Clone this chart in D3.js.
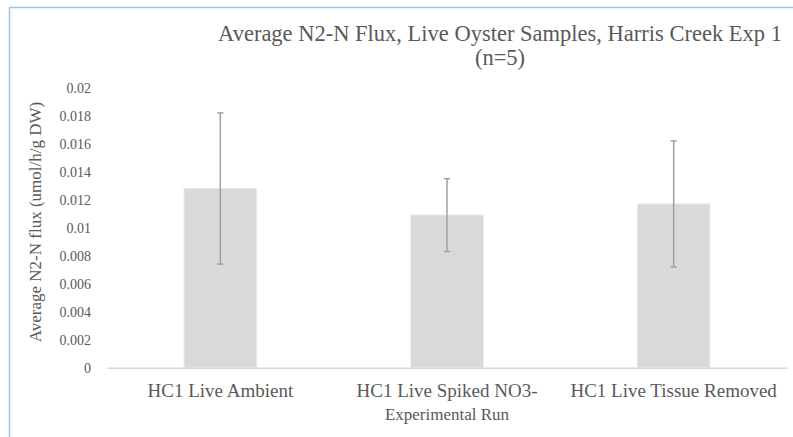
<!DOCTYPE html>
<html>
<head>
<meta charset="utf-8">
<script src="https://cdn.jsdelivr.net/npm/d3@7"></script>
<style>
  body { margin: 0; background: #fff; }
  text { font-family: "Liberation Serif", "DejaVu Serif", serif; fill: #595959; }
</style>
</head>
<body>
<svg width="793" height="437"></svg>
<script>
var categories = ['HC1 Live Ambient', 'HC1 Live Spiked NO3-', 'HC1 Live Tissue Removed']
var means = [0.0128, 0.0109, 0.0117]
var errors = [0.0054, 0.0026, 0.0045]
var yTicks = [0, 0.002, 0.004, 0.006, 0.008, 0.01, 0.012, 0.014, 0.016, 0.018, 0.02]
var titleLines = ['Average N2-N Flux, Live Oyster Samples, Harris Creek Exp 1', '(n=5)']

var serif = '"Liberation Serif", "DejaVu Serif", serif'
var svg = d3.select("svg")

// chart frame (runs off the right/bottom edges)
svg.append("rect")
    .attr("x", 9.5).attr("y", 7.5)
    .attr("width", 800).attr("height", 440)
    .attr("fill", "#fff")
    .attr("stroke", "#9dc3e6")
    .attr("stroke-width", 1.5)

var margin = {top: 87.7, left: 107, right: 6, bottom: 69.3},
    width = 793 - margin.left - margin.right,
    height = 437 - margin.top - margin.bottom

var g = svg.append("g").attr("transform", "translate(" + margin.left + "," + margin.top + ")")

var x = d3.scaleBand()
    .domain(categories)
    .range([0, width])
    .paddingInner(0.68)
    .paddingOuter(0.34)

var y = d3.scaleLinear()
    .domain([0, 0.02])
    .range([height, 0])

// y axis labels only
var yAxis = g.append("g")
    .call(d3.axisLeft(y).tickValues(yTicks).tickSize(0).tickPadding(16)
      .tickFormat(function(d) { return d === 0 ? '0' : String(+d.toFixed(3)) }))
yAxis.attr("font-family", serif)
yAxis.select(".domain").remove()
yAxis.selectAll("text")
    .style("font-family", serif)
    .style("font-size", "14px")
    .attr("fill", "#595959")

// bars
g.selectAll(".bar")
  .data(means)
  .enter().append("rect")
    .attr("class", "bar")
    .attr("x", function(d, i) { return x(categories[i]) })
    .attr("width", x.bandwidth())
    .attr("y", function(d) { return y(d) })
    .attr("height", function(d) { return height - y(d) })
    .attr("fill", "#d9d9d9")
    .attr("stroke", "#d6eef5")
    .attr("stroke-width", 1)

// baseline
var xAxis = g.append("g")
    .attr("transform", "translate(0," + height + ")")
    .call(d3.axisBottom(x).tickSize(0).tickPadding(16))
xAxis.attr("font-family", serif)
xAxis.select(".domain").attr("stroke", "#d9d9d9").attr("stroke-width", 1.5)
xAxis.selectAll("text")
    .style("font-family", serif)
    .style("font-size", "19px")
    .attr("fill", "#595959")

// error bars
var eb = g.selectAll(".err")
  .data(means)
  .enter().append("g")
    .attr("class", "err")
    .attr("stroke", "#a0a0a0")
    .attr("stroke-width", 1.5)
eb.append("line")
    .attr("x1", function(d, i) { return x(categories[i]) + x.bandwidth() / 2 })
    .attr("x2", function(d, i) { return x(categories[i]) + x.bandwidth() / 2 })
    .attr("y1", function(d, i) { return y(d + errors[i]) })
    .attr("y2", function(d, i) { return y(d - errors[i]) })
eb.each(function(d, i) {
  var cx = x(categories[i]) + x.bandwidth() / 2
  var el = d3.select(this)
  ;[d + errors[i], d - errors[i]].forEach(function(v) {
    el.append("line")
      .attr("x1", cx - 3).attr("x2", cx + 3)
      .attr("y1", y(v)).attr("y2", y(v))
  })
})

// axis titles
svg.append("text")
    .attr("x", margin.left + width / 2)
    .attr("y", 420)
    .attr("text-anchor", "middle")
    .style("font-size", "17px")
    .text("Experimental Run")

svg.append("text")
    .attr("transform", "translate(41,222) rotate(-90)")
    .attr("text-anchor", "middle")
    .style("font-size", "17px")
    .text("Average N2-N flux (umol/h/g DW)")

// title
svg.selectAll(".title")
  .data(titleLines)
  .enter().append("text")
    .attr("class", "title")
    .attr("x", 500)
    .attr("y", function(d, i) { return 41 + i * 24 })
    .attr("text-anchor", "middle")
    .style("font-size", "22.5px")
    .text(function(d) { return d })
</script>
</body>
</html>
